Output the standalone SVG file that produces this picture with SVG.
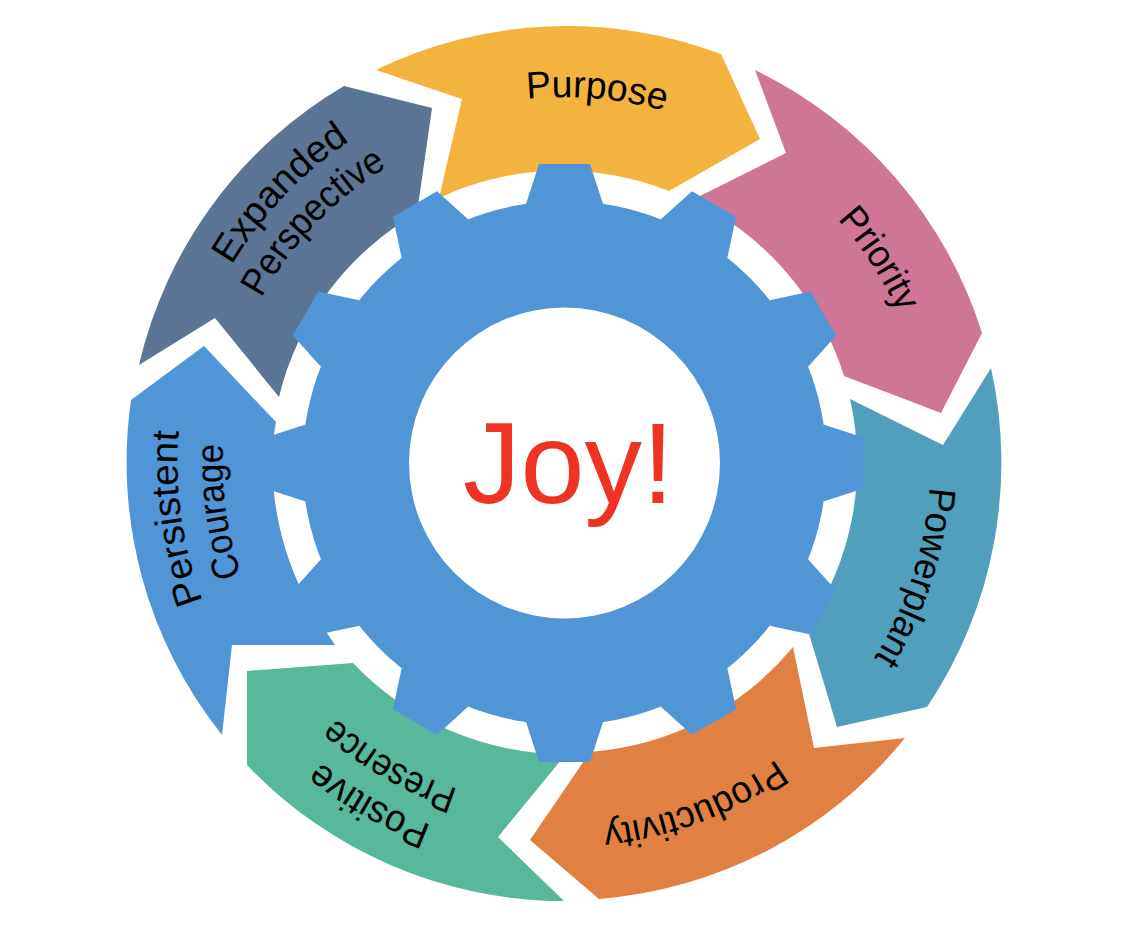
<svg xmlns="http://www.w3.org/2000/svg" xmlns:xlink="http://www.w3.org/1999/xlink" width="1134" height="938" viewBox="0 0 1134 938">
<style>
text{font-family:"Liberation Sans",Arial,sans-serif;font-size:38px;fill:#000;text-anchor:middle}
.gear{fill:#5096D6}
</style>
<defs><polygon id="tooth" points="-25.5,-299 25.5,-299 38.5,-259 -38.5,-259"/>
<path id="r366" d="M198.5 463A366 366 0 0 1 930.5 463"/>
<path id="r364" d="M200.5 463A364 364 0 0 1 928.5 463"/>
<path id="r386" d="M178.5 463A386 386 0 0 1 950.5 463"/>
<path id="r343" d="M221.5 463A343 343 0 0 1 907.5 463"/>
<path id="r387" d="M177.5 463A387 387 0 0 1 951.5 463"/>
<path id="r345" d="M219.5 463A345 345 0 0 1 909.5 463"/>
<path id="r342" d="M222.5 463A342 342 0 0 1 906.5 463"/>
</defs>
<rect width="1134" height="938" fill="#fff"/>
<g id="connectors"></g>
<g id="purpose"><path fill="#F4B23F" d="M376 70A438 438 0 0 1 721 54L760 139L669 191A291 291 0 0 0 439 198L462 99Z"/><text transform="rotate(5 564.5 463)"><textPath xlink:href="#r366" startOffset="50%" textLength="139" lengthAdjust="spacingAndGlyphs">Purpose</textPath></text></g>
<g id="priority"><path fill="#CF7595" d="M755 70A438 438 0 0 1 982 333L941 413L844 376A291 291 0 0 0 692 200L786 153Z"/><text transform="rotate(57 564.5 463)"><textPath xlink:href="#r366" startOffset="50%" textLength="112" lengthAdjust="spacingAndGlyphs">Priority</textPath></text></g>
<g id="powerplant"><path fill="#50A0BD" d="M991 368A438 438 0 0 1 927 707L837 727L807 627A291 291 0 0 0 850 399L943 445Z"/><text transform="rotate(108 564.5 463)"><textPath xlink:href="#r366" startOffset="50%" textLength="182" lengthAdjust="spacingAndGlyphs">Powerplant</textPath></text></g>
<g id="productivity"><path fill="#E08043" d="M905 738A438 438 0 0 1 599 899L530 840L590 752A291 291 0 0 0 793 647L814 748Z"/><text transform="rotate(159.2 564.5 463)"><textPath xlink:href="#r364" startOffset="50%" textLength="188" lengthAdjust="spacingAndGlyphs">Productivity</textPath></text></g>
<g id="positive-presence"><path fill="#58B89C" d="M564 901A438 438 0 0 1 247 765L247 671L353 663A291 291 0 0 0 566 754L498 837Z"/><text transform="rotate(209.7 564.5 463)"><textPath xlink:href="#r386" startOffset="50%" textLength="129" lengthAdjust="spacingAndGlyphs">Positive</textPath></text><text transform="rotate(210 564.5 463)"><textPath xlink:href="#r343" startOffset="50%" textLength="143" lengthAdjust="spacingAndGlyphs">Presence</textPath></text></g>
<g id="persistent-courage"><path fill="#5096D6" d="M222 735A438 438 0 0 1 131 400L204 346L276 422L274 434A291 291 0 0 0 327 633L335 645L232 645Z"/><text transform="rotate(261.9 564.5 463)"><textPath xlink:href="#r387" startOffset="50%" textLength="173" lengthAdjust="spacingAndGlyphs">Persistent</textPath></text><text transform="rotate(262 564.5 463)"><textPath xlink:href="#r342" startOffset="50%" textLength="133" lengthAdjust="spacingAndGlyphs">Courage</textPath></text></g>
<g id="expanded-perspective"><path fill="#5A7595" d="M139 365A438 438 0 0 1 344 86L432 108L417 213A291 291 0 0 0 279 397L215 318Z"/><text transform="rotate(313.5 564.5 463)"><textPath xlink:href="#r387" startOffset="50%" textLength="173" lengthAdjust="spacingAndGlyphs">Expanded</textPath></text><text transform="rotate(313.8 564.5 463)"><textPath xlink:href="#r345" startOffset="50%" textLength="184" lengthAdjust="spacingAndGlyphs">Perspective</textPath></text></g>
<g id="gear" class="gear" transform="translate(564.5 463)">
<circle r="262"/>
<use xlink:href="#tooth"/><use xlink:href="#tooth" transform="rotate(30)"/><use xlink:href="#tooth" transform="rotate(60)"/><use xlink:href="#tooth" transform="rotate(90)"/><use xlink:href="#tooth" transform="rotate(120)"/><use xlink:href="#tooth" transform="rotate(150)"/><use xlink:href="#tooth" transform="rotate(180)"/><use xlink:href="#tooth" transform="rotate(210)"/><use xlink:href="#tooth" transform="rotate(240)"/><use xlink:href="#tooth" transform="rotate(270)"/><use xlink:href="#tooth" transform="rotate(300)"/><use xlink:href="#tooth" transform="rotate(330)"/>
<circle r="155.5" fill="#fff"/>
</g>
<text id="joy" x="568.5" y="503" style="font-size:115px;fill:#EE3323">Joy!</text>
</svg>
